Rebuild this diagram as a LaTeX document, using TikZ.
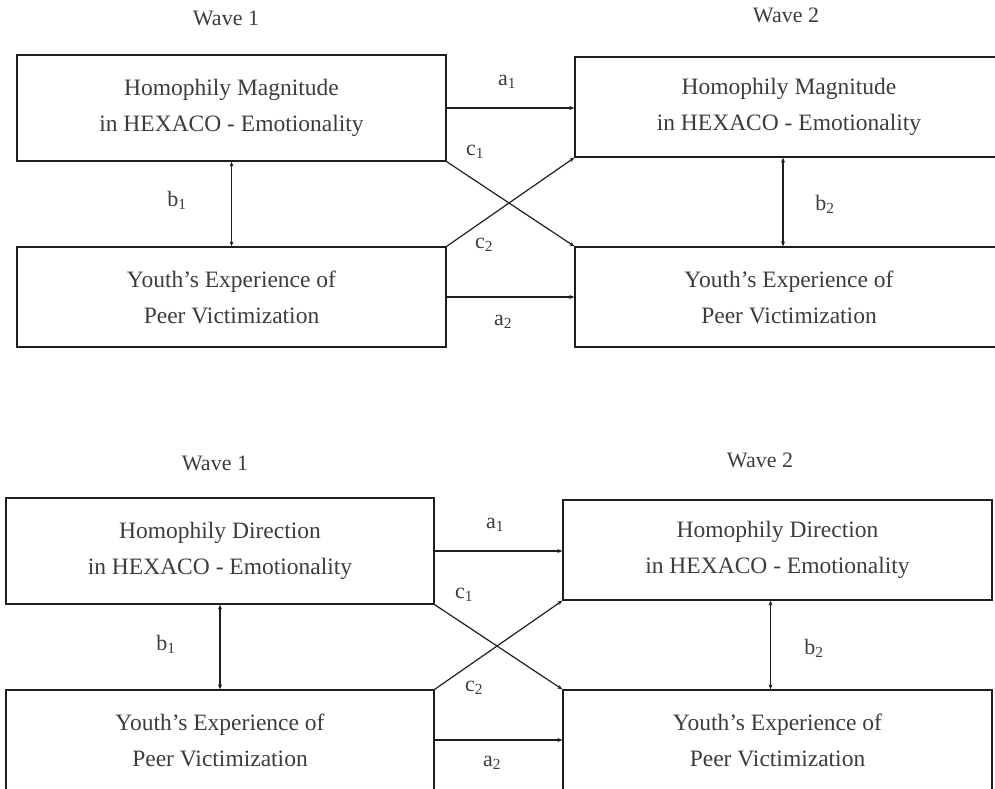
\documentclass[tikz,border=0pt]{standalone}
\usepackage{fontspec}
\setmainfont{Liberation Serif}
\usepackage{tikz}
\usepackage{xcolor}
\usetikzlibrary{arrows.meta,positioning}
\definecolor{figtext}{RGB}{60,60,60}
\definecolor{figline}{RGB}{30,30,30}

\begin{document}
\begin{tikzpicture}[x=1pt,y=-1pt,>={Stealth[length=5pt,width=4pt]},
  varbox/.style={draw=figline,line width=1.3pt,inner sep=0pt,align=center,
    text=figtext,font=\fontsize{23.5}{36}\selectfont},
  wavelab/.style={text=figtext,font=\fontsize{22}{26}\selectfont},
  pathlab/.style={text=figtext,font=\fontsize{22}{26}\selectfont,inner sep=0pt},
  link/.style={figline,line width=1.2pt}]
  \useasboundingbox (0,0) rectangle (995,789);
  \clip (0,0) rectangle (995,789);

  % top panel: magnitude
  \node[wavelab] (tw1) at (226,18) {Wave 1};
  \node[wavelab] (tw2) at (786,15) {Wave 2};
  \node[varbox,minimum width=429pt,minimum height=106pt] (tmag1) at (231.5,108)
    {Homophily Magnitude\\in HEXACO - Emotionality};
  \node[varbox,minimum width=429pt,minimum height=100pt] (tvic1) at (231.5,297)
    {Youth’s Experience of\\Peer Victimization};
  \node[varbox,minimum width=428pt,minimum height=100pt] (tmag2) at (789,107)
    {Homophily Magnitude\\in HEXACO - Emotionality};
  \node[varbox,minimum width=428pt,minimum height=100pt] (tvic2) at (789,297)
    {Youth’s Experience of\\Peer Victimization};

  \draw[link,->] (tmag1.east) -- (tmag1.east -| tmag2.west);
  \draw[link,->] (tvic1.east) -- (tvic2.west);
  \draw[link,->] (tmag1.south east) -- (tvic2.north west);
  \draw[link,->] (tvic1.north east) -- (tmag2.south west);
  \draw[link,<->] (tmag1.south) -- (tvic1.north);
  \draw[link,<->] ([xshift=-6pt]tmag2.south) -- ([xshift=-6pt]tvic2.north);

  \node[pathlab] (ta1) at (507,82) {a\textsubscript{1}};
  \node[pathlab] (tc1) at (475,152) {c\textsubscript{1}};
  \node[pathlab] (tc2) at (484,245) {c\textsubscript{2}};
  \node[pathlab] (ta2) at (503,322) {a\textsubscript{2}};
  \node[pathlab] (tb1) at (177,200) {b\textsubscript{1}};
  \node[pathlab] (tb2) at (825,204) {b\textsubscript{2}};

  % bottom panel: direction
  \node[wavelab] (bw1) at (215,463) {Wave 1};
  \node[wavelab] (bw2) at (760,460) {Wave 2};
  \node[varbox,minimum width=428pt,minimum height=106pt] (bdir1) at (220,551)
    {Homophily Direction\\in HEXACO - Emotionality};
  \node[varbox,minimum width=428pt,minimum height=100pt] (bvic1) at (220,740)
    {Youth’s Experience of\\Peer Victimization};
  \node[varbox,minimum width=429pt,minimum height=100pt] (bdir2) at (777.5,550)
    {Homophily Direction\\in HEXACO - Emotionality};
  \node[varbox,minimum width=429pt,minimum height=100pt] (bvic2) at (777.5,740)
    {Youth’s Experience of\\Peer Victimization};

  \draw[link,->] (bdir1.east) -- (bdir1.east -| bdir2.west);
  \draw[link,->] (bvic1.east) -- (bvic2.west);
  \draw[link,->] (bdir1.south east) -- (bvic2.north west);
  \draw[link,->] (bvic1.north east) -- (bdir2.south west);
  \draw[link,<->] (bdir1.south) -- (bvic1.north);
  \draw[link,<->] ([xshift=-7pt]bdir2.south) -- ([xshift=-7pt]bvic2.north);

  \node[pathlab] (ba1) at (495,525) {a\textsubscript{1}};
  \node[pathlab] (bc1) at (464,595) {c\textsubscript{1}};
  \node[pathlab] (bc2) at (474,688) {c\textsubscript{2}};
  \node[pathlab] (ba2) at (492,763) {a\textsubscript{2}};
  \node[pathlab] (bb1) at (166,644) {b\textsubscript{1}};
  \node[pathlab] (bb2) at (814,648) {b\textsubscript{2}};
\end{tikzpicture}
\end{document}
